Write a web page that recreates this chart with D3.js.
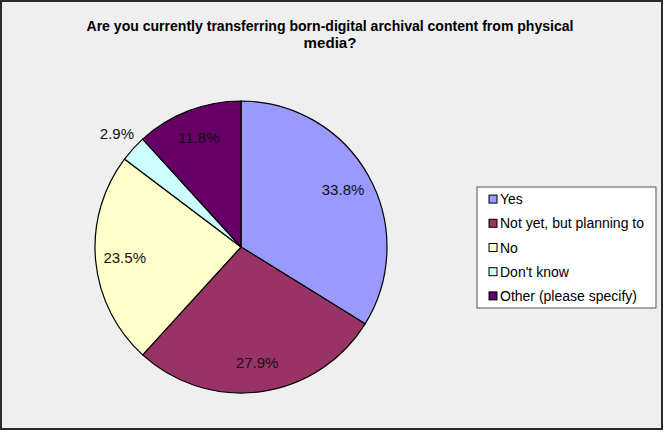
<!DOCTYPE html>
<html>
<head>
<meta charset="utf-8">
<script src="https://cdn.jsdelivr.net/npm/d3@7"></script>
<style>
  body { margin: 0; background: #ffffff; }
  svg { display: block; font-family: "Liberation Sans", Arial, sans-serif; }
</style>
</head>
<body>
<svg id="pie-chart" width="664" height="432"></svg>
<script>
// survey answers (counts out of 68 respondents)
var categories = ['Yes', 'Not yet, but planning to', 'No', "Don't know", 'Other (please specify)'];
var counts = [23, 19, 16, 2, 8];
var colors = ['#9999ff', '#993366', '#ffffcc', '#ccffff', '#660066'];
var titleLines = ['Are you currently transferring born-digital archival content from physical', 'media?'];

(function() {
	'use strict';

	var chart = d3.select('#pie-chart'),
		cx = 241,
		cy = 247,
		radius = 146;

	// frame
	chart.append('rect')
		.attr('x', 1).attr('y', 1)
		.attr('width', 661).attr('height', 428)
		.attr('fill', '#efefef')
		.attr('stroke', '#2b2b2b')
		.attr('stroke-width', 2);

	// title
	chart.append('text')
		.attr('x', 330).attr('y', 31)
		.attr('text-anchor', 'middle')
		.attr('font-size', 15)
		.attr('font-weight', 'bold')
		.attr('textLength', 487)
		.attr('lengthAdjust', 'spacingAndGlyphs')
		.text(titleLines[0]);
	chart.append('text')
		.attr('x', 330).attr('y', 48)
		.attr('text-anchor', 'middle')
		.attr('font-size', 15)
		.attr('font-weight', 'bold')
		.attr('textLength', 53)
		.attr('lengthAdjust', 'spacingAndGlyphs')
		.text(titleLines[1]);

	var total = d3.sum(counts);
	var data = categories.map(function(c, i) {
		return { name: c, value: counts[i], color: colors[i] };
	});

	var pie = d3.pie()
		.sort(null)
		.value(function(d) { return d.value; });

	var arc = d3.arc().innerRadius(0).outerRadius(radius);
	var labelArc = d3.arc().innerRadius(radius * 0.8).outerRadius(radius * 0.8);
	var outerLabelArc = d3.arc().innerRadius(radius * 1.15).outerRadius(radius * 1.15);

	var g = chart.append('g')
		.attr('transform', 'translate(' + cx + ',' + cy + ')');

	var slices = pie(data);

	g.selectAll('.slice')
		.data(slices)
		.enter()
		.append('path')
		.attr('class', 'slice')
		.attr('d', arc)
		.attr('fill', function(d) { return d.data.color; })
		.attr('stroke', '#000')
		.attr('stroke-width', 1.2);

	g.selectAll('.pct')
		.data(slices)
		.enter()
		.append('text')
		.attr('class', 'pct')
		.attr('transform', function(d) {
			var small = d.data.value / total < 0.05;
			var p = (small ? outerLabelArc : labelArc).centroid(d);
			return 'translate(' + p[0] + ',' + p[1] + ')';
		})
		.attr('text-anchor', 'middle')
		.attr('dy', '0.35em')
		.attr('font-size', 15)
		.attr('fill', '#111')
		.text(function(d) { return (d.data.value / total * 100).toFixed(1) + '%'; });

	// legend
	var legend = chart.append('g')
		.attr('transform', 'translate(477,187)');

	legend.append('rect')
		.attr('width', 179).attr('height', 121)
		.attr('fill', '#ffffff')
		.attr('stroke', '#555')
		.attr('stroke-width', 1);

	var rowY = d3.scaleBand()
		.domain(d3.range(categories.length))
		.range([0, 121])
		.padding(0);

	var rows = legend.selectAll('.row')
		.data(data)
		.enter()
		.append('g')
		.attr('class', 'row')
		.attr('transform', function(d, i) {
			return 'translate(0,' + (rowY(i) + rowY.bandwidth() / 2) + ')';
		});

	rows.append('rect')
		.attr('x', 12).attr('y', -4)
		.attr('width', 8).attr('height', 8)
		.attr('fill', function(d) { return d.color; })
		.attr('stroke', '#000')
		.attr('stroke-width', 1);

	rows.append('text')
		.attr('x', 23)
		.attr('dy', '0.36em')
		.attr('font-size', 14)
		.attr('fill', '#000')
		.text(function(d) { return d.name; });
})();
</script>
</body>
</html>
